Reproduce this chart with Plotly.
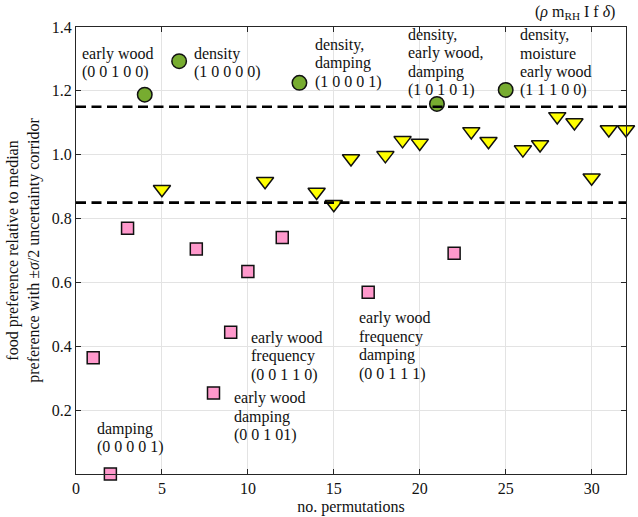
import plotly.graph_objects as go

# ---- data ----
circle_x = [4, 6, 13, 21, 25]
circle_y = [1.188, 1.293, 1.225, 1.159, 1.203]

square_x = [1, 2, 3, 7, 8, 9, 10, 12, 17, 22]
square_y = [0.364, 0.0, 0.770, 0.705, 0.254, 0.444, 0.634, 0.741, 0.569, 0.691]

tri_x = [5, 11, 14, 15, 16, 18, 19, 20, 23, 24, 26, 27, 28, 29, 30, 31, 32]
tri_y = [0.892, 0.917, 0.883, 0.845, 0.988, 0.998, 1.045, 1.037, 1.073, 1.042,
         1.016, 1.032, 1.120, 1.101, 0.928, 1.079, 1.079]

corridor = [0.85, 1.15]

x_ticks = [0, 5, 10, 15, 20, 25, 30]
y_ticks = [0.2, 0.4, 0.6, 0.8, 1.0, 1.2, 1.4]
y_tick_text = ["0.2", "0.4", "0.6", "0.8", "1.0", "1.2", "1.4"]

# labels: (x, y of first line, lines)
label_x = [0.25, 6.72, 13.78, 19.2, 25.73, 1.08, 10.05, 9.09, 16.33]
label_y = [1.317, 1.316, 1.345, 1.375, 1.375, 0.1416, 0.4266, 0.2374, 0.488]
label_lines = [
    ["early wood", "(0 0 1 0 0)"],
    ["density", "(1 0 0 0 0)"],
    ["density,", "damping", "(1 0 0 0 1)"],
    ["density,", "early wood,", "damping", "(1 0 1 0 1)"],
    ["density,", "moisture", "early wood", "(1 1 1 0 0)"],
    ["damping", "(0 0 0 0 1)"],
    ["early wood", "frequency", "(0 0 1 1 0)"],
    ["early wood", "damping", "(0 0 1 01)"],
    ["early wood", "frequency", "damping", "(0 0 1 1 1)"],
]

FONT = "Liberation Serif, Times New Roman, serif"
TXT = "#111111"
AX = "#262626"
GRID = "#e3e3e3"

fig = go.Figure()

fig.add_trace(go.Scatter(
    x=tri_x, y=tri_y, mode="markers", cliponaxis=False,
    marker=dict(symbol="triangle-down", size=15, color="#ffff00",
                line=dict(color="#111111", width=1.5)),
    showlegend=False))
fig.add_trace(go.Scatter(
    x=square_x, y=square_y, mode="markers", cliponaxis=False,
    marker=dict(symbol="square", size=12, color="#ff99cc",
                line=dict(color="#111111", width=1.5)),
    showlegend=False))
fig.add_trace(go.Scatter(
    x=circle_x, y=circle_y, mode="markers", cliponaxis=False,
    marker=dict(symbol="circle", size=14.5, color="#77ac30",
                line=dict(color="#111111", width=1.5)),
    showlegend=False))

for yv in corridor:
    fig.add_shape(type="line", xref="paper", x0=0, x1=1, yref="y", y0=yv, y1=yv,
                  line=dict(color="black", width=2.6, dash="10px,5.5px"),
                  layer="above")

LINE_H = 18.5
for lx, ly, lines in zip(label_x, label_y, label_lines):
    for i, t in enumerate(lines):
        fig.add_annotation(x=lx, y=ly, xref="x", yref="y", text=t,
                           showarrow=False, xanchor="left", yanchor="middle",
                           yshift=-LINE_H * i,
                           font=dict(family=FONT, size=16, color=TXT))

fig.add_annotation(x=0.984, y=1.032, xref="paper", yref="paper",
                   text="(<i>ρ</i> m<sub>RH</sub> I f <i>δ</i>)",
                   showarrow=False, xanchor="right", yanchor="middle",
                   font=dict(family=FONT, size=16, color=TXT))

fig.update_xaxes(
    range=[0, 32], tickvals=x_ticks, ticks="inside", ticklen=5, tickcolor=AX,
    showline=True, linecolor=AX, linewidth=1, mirror="ticks",
    showgrid=True, gridcolor=GRID, gridwidth=1, zeroline=False,
    tickfont=dict(family=FONT, size=16, color=TXT),
    title=dict(text="no. permutations", standoff=4,
               font=dict(family=FONT, size=16, color=TXT)),
    automargin=False)
fig.update_yaxes(
    range=[0, 1.4], tickvals=y_ticks, ticktext=y_tick_text,
    ticks="inside", ticklen=5, tickcolor=AX,
    showline=True, linecolor=AX, linewidth=1, mirror="ticks",
    showgrid=True, gridcolor=GRID, gridwidth=1, zeroline=False,
    tickfont=dict(family=FONT, size=16, color=TXT),
    title=dict(text="food preference relative to median<br>preference with ±<i>σ</i>/2 uncertainty corridor",
               standoff=8, font=dict(family=FONT, size=16, color=TXT)),
    automargin=False)

fig.update_layout(
    width=638, height=517,
    margin=dict(l=76, r=12, t=27, b=43),
    paper_bgcolor="white", plot_bgcolor="white",
    font=dict(family=FONT, size=16, color=TXT),
)

# remove the default page margin so the figure fills the window exactly
fig.write_html("out.html",
               config={"displayModeBar": False},
               post_script="document.body.style.margin='0';document.body.style.overflow='hidden';")
